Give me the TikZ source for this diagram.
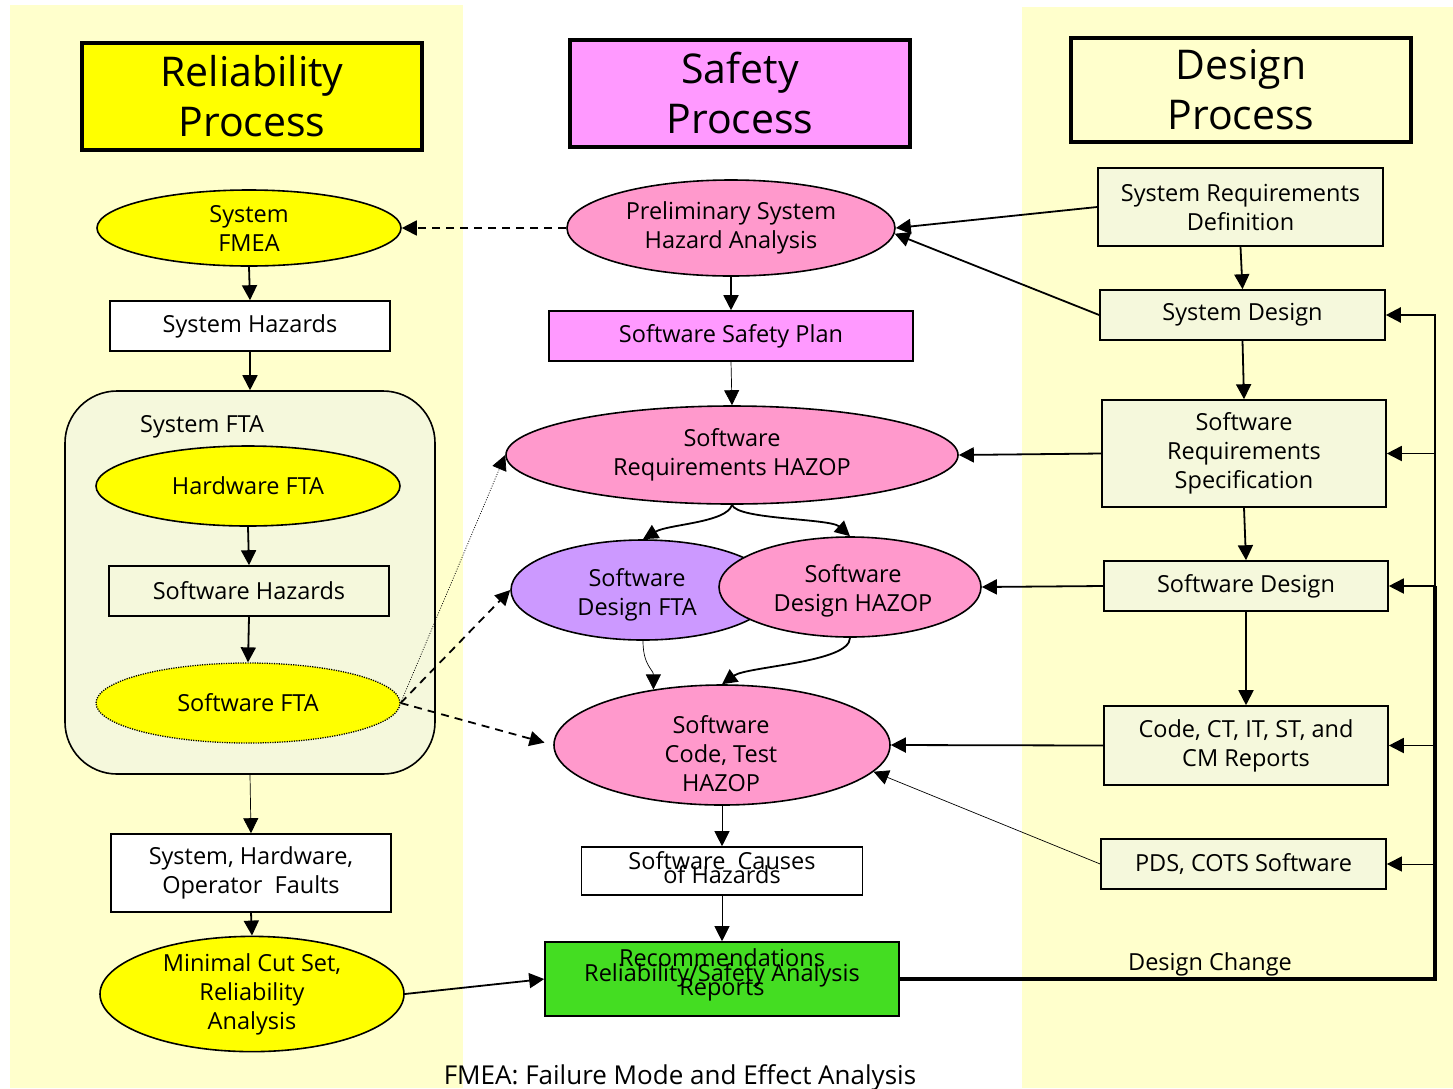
\documentclass[tikz,border=0pt]{standalone}
\usepackage{fontspec}
\setmainfont{Open Sans}
\usetikzlibrary{shapes.geometric,arrows.meta,calc}
\definecolor{bgY}{HTML}{FFFFCC}
\definecolor{yel}{HTML}{FFFF00}
\definecolor{mag}{HTML}{FF99FF}
\definecolor{pinkE}{HTML}{FF99CC}
\definecolor{purp}{HTML}{CC99FF}
\definecolor{grn}{HTML}{44DD22}
\definecolor{lightc}{HTML}{F5F8DC}
\begin{document}
\begin{tikzpicture}[x=1pt,y=-1pt,
  every node/.style={font=\fontsize{23.5}{29}\selectfont, align=center, inner sep=0pt},
  titlebox/.style={rectangle, draw, line width=3.5pt, font=\fontsize{41}{50}\selectfont, minimum width=340pt},
  ell/.style={ellipse, draw, line width=1.6pt},
  box/.style={rectangle, draw, line width=1.6pt},
  arr/.style={-{Triangle[length=15pt,width=15pt]}, line width=1.8pt},
  tharr/.style={-{Triangle[length=15pt,width=15pt]}, line width=0.7pt},
  dsh/.style={dash pattern=on 8pt off 6pt},
  dtt/.style={dash pattern=on 1pt off 1.5pt, line width=0.7pt, -{Triangle[length=15pt,width=15pt]}}
]
\useasboundingbox (0,0) rectangle (1453,1088);
\fill[bgY] (10,5) rectangle (463,1088);
\fill[bgY] (1022,7) rectangle (1453,1088);

% titles
\node[titlebox, fill=yel, minimum height=107pt] (relT) at (252,96.5) {Reliability\\Process};
\node[titlebox, fill=mag, minimum height=107pt] (safT) at (740,93.5) {Safety\\Process};
\node[titlebox, fill=bgY, minimum height=104pt] (desT) at (1241,90) {Design\\Process};

% left column
\node[ell, fill=yel, minimum width=304pt, minimum height=76pt] (fmea) at (249,228) {System\\FMEA};
\node[box, fill=white, minimum width=280pt, minimum height=50pt] (shaz) at (250,326) {System Hazards};
\node[rectangle, draw, line width=1.6pt, rounded corners=52pt, fill=lightc, minimum width=370pt, minimum height=383pt] (fta) at (250,582.5) {};
\node (ftaL) at (202,427) {System FTA};
\node[ell, fill=yel, minimum width=304pt, minimum height=80pt] (hwfta) at (248,486) {Hardware FTA};
\node[box, fill=lightc, minimum width=280pt, minimum height=50pt] (swhaz) at (249,591) {Software Hazards};
\node[ell, dash pattern=on 1.2pt off 1.2pt, line width=1.3pt, fill=yel, minimum width=304pt, minimum height=80pt] (swfta) at (248,703) {Software FTA};
\node[box, fill=white, minimum width=280pt, minimum height=78pt] (faults) at (251,873) {System, Hardware,\\Operator~~Faults};
\node[ell, fill=yel, minimum width=304pt, minimum height=112pt] (mcs) at (252,994) {Minimal Cut Set,\\Reliability\\Analysis};

% middle column
\node[ell, fill=pinkE, minimum width=328pt, minimum height=96pt] (psha) at (731,228) {Preliminary System\\Hazard Analysis};
\node[box, fill=mag, minimum width=364pt, minimum height=50pt] (ssp) at (731,336) {Software Safety Plan};
\node[ell, fill=pinkE, minimum width=452pt, minimum height=98pt] (srh) at (732,455) {Software\\Requirements HAZOP};
\node[ell, fill=purp, minimum width=264pt, minimum height=100pt] (sdfta) at (643,590) {};
\node (sdftaT) at (637,595) {Software\\Design FTA};
\node[ell, fill=pinkE, minimum width=262pt, minimum height=100pt] (sdh) at (850,587) {};
\node (sdhT) at (853,591) {Software\\Design HAZOP};
\node[ell, fill=pinkE, minimum width=336pt, minimum height=120pt] (scth) at (722,745) {};
\node (scthT) at (721,754) {Software\\Code, Test\\HAZOP};
\node[box, fill=white, minimum width=281pt, minimum height=48pt] (sch) at (722,871) {};
\node (schT) at (722,868) {Software~~Causes\\[-15pt]of Hazards};
\node[box, fill=grn, minimum width=354pt, minimum height=74pt] (rec) at (722,979) {};
\node (recT) at (722,975) {Recommendations\\[-14.5pt]Reliability/Safety Analysis\\[-14.5pt]Reports};

% right column
\node[box, fill=lightc, minimum width=285pt, minimum height=78pt] (srd) at (1240.5,207) {System Requirements\\Definition};
\node[box, fill=lightc, minimum width=285pt, minimum height=50pt] (sd) at (1242.5,315) {System Design};
\node[box, fill=lightc, minimum width=284pt, minimum height=107pt] (srs) at (1244,453.5) {Software\\Requirements\\Specification};
\node[box, fill=lightc, minimum width=284pt, minimum height=50pt] (swd) at (1246,586) {Software Design};
\node[box, fill=lightc, minimum width=284pt, minimum height=79pt] (code) at (1246,745.5) {Code, CT, IT, ST, and\\CM Reports};
\node[box, fill=lightc, minimum width=285pt, minimum height=50pt] (pds) at (1243.5,864) {PDS, COTS Software};

% labels
\node (dclab) at (1210,964) {Design Change};
\node[font=\fontsize{26}{30}\selectfont] (foot) at (680,1078) {FMEA: Failure Mode and Effect Analysis};

% left connectors
\draw[arr] (fmea.south) -- (shaz.north);
\draw[arr] (shaz.south) -- (fta.north);
\draw[arr] (hwfta.south) -- (swhaz.north);
\draw[arr] (swhaz.south) -- (swfta.north);
\draw[tharr] (fta.south) -- (faults.north);
\draw[arr] (faults.south) -- (mcs.north);

% middle connectors
\draw[arr, dsh] (psha.west) -- (fmea.east);
\draw[arr] (psha.south) .. controls +(0,18) and +(0,-12) .. (ssp.north);
\draw[tharr] (ssp.south) -- (srh.north);
\draw[arr] (srh.south) .. controls +(-5,18) and +(25,-15) .. (sdfta.north);
\draw[arr] (srh.south) .. controls +(5,15) and +(-20,-18) .. (sdh.north);
\draw[tharr] (sdfta.south) .. controls +(0,25) and +(0,-20) .. (scth.141);
\draw[arr] (sdh.south) .. controls +(0,25) and +(25,-18) .. (scth.north);
\draw[tharr] (scth.south) -- (sch.north);
\draw[tharr] (sch.south) -- (rec.north);
\draw[arr] (mcs.east) -- (rec.west);

% software FTA links
\draw[dtt] (swfta.east) -- (srh.west);
\draw[arr, dsh] (swfta.east) -- (sdfta.west);
\draw[arr, dsh, shorten >=9pt] (swfta.east) -- (scth.west);

% design column connectors
\draw[arr] (srd.west) -- (psha.east);
\draw[arr] (sd.west) -- (psha.-2);
\draw[arr] (srd.south) -- (sd.north);
\draw[arr] (sd.south) -- (srs.north);
\draw[arr] (srs.south) -- (swd.north);
\draw[arr] (swd.south) -- (code.north);
\draw[arr] (srs.west) -- (srh.east);
\draw[arr] (swd.west) -- (sdh.east);
\draw[arr] (code.west) -- (scth.east);
\draw[tharr] (pds.west) -- (scth.-10);

% design change feedback
\coordinate (dc) at (1435,979);
\draw[line width=4pt] (rec.east) -- (dc) -- (dc |- swd.east);
\draw[arr, line width=2.4pt] (dc |- swd.east) |- (sd.east);
\draw[arr] (dc |- srs.east) -- (srs.east);
\draw[arr] (dc |- swd.east) -- (swd.east);
\draw[arr] (dc |- code.east) -- (code.east);
\draw[tharr] (dc |- pds.east) -- (pds.east);
\end{tikzpicture}
\end{document}
